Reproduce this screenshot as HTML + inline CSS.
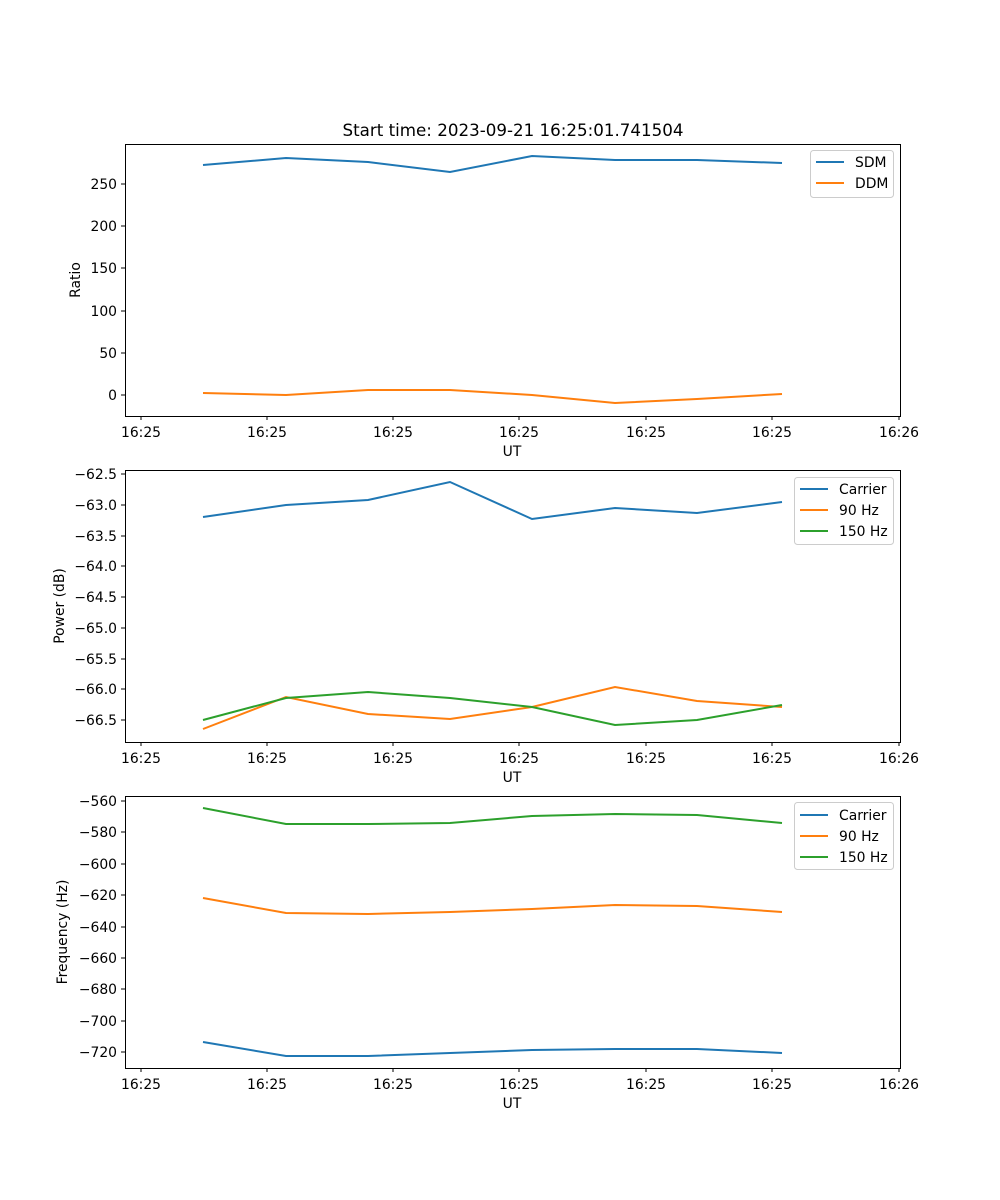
<!DOCTYPE html>
<html><head><style>body{margin:0;background:#fff}svg{display:block}text{font-family:"DejaVu Sans","Liberation Sans",sans-serif;font-size:13.9px;fill:#000}</style></head><body>
<svg width="1000" height="1200" xmlns="http://www.w3.org/2000/svg">
<rect width="1000" height="1200" fill="#fff"/>
<text x="513" y="136" text-anchor="middle" style="font-size:16.7px">Start time: 2023-09-21 16:25:01.741504</text>

<g stroke="#000" stroke-width="1" fill="none">
<rect x="125.5" y="144.5" width="775" height="272"/>
<rect x="125.5" y="470.5" width="775" height="272"/>
<rect x="125.5" y="796.5" width="775" height="272"/>
</g>
<g stroke="#000">
<path d="M141 416v4M267 416v4M393 416v4M519 416v4M646 416v4M772 416v4M899 416v4"/>
<path d="M141 742v4M267 742v4M393 742v4M519 742v4M646 742v4M772 742v4M899 742v4"/>
<path d="M141 1068v4M267 1068v4M393 1068v4M519 1068v4M646 1068v4M772 1068v4M899 1068v4"/>
</g>
<g text-anchor="middle">
<text x="141" y="437">16:25</text><text x="267" y="437">16:25</text><text x="393" y="437">16:25</text><text x="519" y="437">16:25</text><text x="646" y="437">16:25</text><text x="772" y="437">16:25</text><text x="899" y="437">16:26</text>
<text x="512" y="456">UT</text>
<text x="141" y="763">16:25</text><text x="267" y="763">16:25</text><text x="393" y="763">16:25</text><text x="519" y="763">16:25</text><text x="646" y="763">16:25</text><text x="772" y="763">16:25</text><text x="899" y="763">16:26</text>
<text x="512" y="782">UT</text>
<text x="141" y="1089">16:25</text><text x="267" y="1089">16:25</text><text x="393" y="1089">16:25</text><text x="519" y="1089">16:25</text><text x="646" y="1089">16:25</text><text x="772" y="1089">16:25</text><text x="899" y="1089">16:26</text>
<text x="512" y="1108">UT</text>
</g>
<g stroke="#000"><path d="M121 395h4M121 353h4M121 311h4M121 268h4M121 226h4M121 184h4"/></g>
<g text-anchor="end">
<text x="117" y="400">0</text><text x="117" y="358">50</text><text x="117" y="316">100</text><text x="117" y="273">150</text><text x="117" y="231">200</text><text x="117" y="189">250</text>
</g>
<text transform="translate(80,280) rotate(-90)" text-anchor="middle">Ratio</text>
<polyline fill="none" stroke="#1f77b4" stroke-width="2" points="203,165 286,158 368,162 450,172 532,156 615,160 697,160 782,163"/>
<polyline fill="none" stroke="#ff7f0e" stroke-width="2" points="203,393 286,395 368,390 450,390 532,395 615,403 697,399 782,394"/>
<rect x="810.5" y="150.5" width="83" height="47" fill="#fff" stroke="#ccc" rx="3"/>
<path d="M816 162h28" stroke="#1f77b4" stroke-width="2"/><text x="855" y="167">SDM</text>
<path d="M816 183h28" stroke="#ff7f0e" stroke-width="2"/><text x="855" y="188">DDM</text>

<g stroke="#000"><path d="M121 474h4M121 505h4M121 536h4M121 566h4M121 597h4M121 628h4M121 659h4M121 689h4M121 720h4"/></g>
<g text-anchor="end">
<text x="117" y="479">−62.5</text><text x="117" y="510">−63.0</text><text x="117" y="541">−63.5</text><text x="117" y="571">−64.0</text><text x="117" y="602">−64.5</text><text x="117" y="633">−65.0</text><text x="117" y="664">−65.5</text><text x="117" y="694">−66.0</text><text x="117" y="725">−66.5</text>
</g>
<text transform="translate(64,606) rotate(-90)" text-anchor="middle">Power (dB)</text>
<polyline fill="none" stroke="#1f77b4" stroke-width="2" points="203,517 286,505 368,500 450,482 532,519 615,508 697,513 782,502"/>
<polyline fill="none" stroke="#ff7f0e" stroke-width="2" points="203,729 286,697 368,714 450,719 532,707 615,687 697,701 782,707"/>
<polyline fill="none" stroke="#2ca02c" stroke-width="2" points="203,720 286,698 368,692 450,698 532,707 615,725 697,720 782,705"/>
<rect x="794.5" y="477.5" width="99" height="67" fill="#fff" stroke="#ccc" rx="3"/>
<path d="M800 489h28" stroke="#1f77b4" stroke-width="2"/><text x="839" y="494">Carrier</text>
<path d="M800 510h28" stroke="#ff7f0e" stroke-width="2"/><text x="839" y="515">90 Hz</text>
<path d="M800 531h28" stroke="#2ca02c" stroke-width="2"/><text x="839" y="536">150 Hz</text>

<g stroke="#000"><path d="M121 801h4M121 832h4M121 864h4M121 895h4M121 927h4M121 958h4M121 989h4M121 1021h4M121 1052h4"/></g>
<g text-anchor="end">
<text x="117" y="806">−560</text><text x="117" y="837">−580</text><text x="117" y="869">−600</text><text x="117" y="900">−620</text><text x="117" y="932">−640</text><text x="117" y="963">−660</text><text x="117" y="994">−680</text><text x="117" y="1026">−700</text><text x="117" y="1057">−720</text>
</g>
<text transform="translate(67,932) rotate(-90)" text-anchor="middle">Frequency (Hz)</text>
<polyline fill="none" stroke="#2ca02c" stroke-width="2" points="203,808 286,824 368,824 450,823 532,816 615,814 697,815 782,823"/>
<polyline fill="none" stroke="#ff7f0e" stroke-width="2" points="203,898 286,913 368,914 450,912 532,909 615,905 697,906 782,912"/>
<polyline fill="none" stroke="#1f77b4" stroke-width="2" points="203,1042 286,1056 368,1056 450,1053 532,1050 615,1049 697,1049 782,1053"/>
<rect x="794.5" y="802.5" width="99" height="67" fill="#fff" stroke="#ccc" rx="3"/>
<path d="M800 815h28" stroke="#1f77b4" stroke-width="2"/><text x="839" y="820">Carrier</text>
<path d="M800 836h28" stroke="#ff7f0e" stroke-width="2"/><text x="839" y="841">90 Hz</text>
<path d="M800 857h28" stroke="#2ca02c" stroke-width="2"/><text x="839" y="862">150 Hz</text>
</svg>
</body></html>
